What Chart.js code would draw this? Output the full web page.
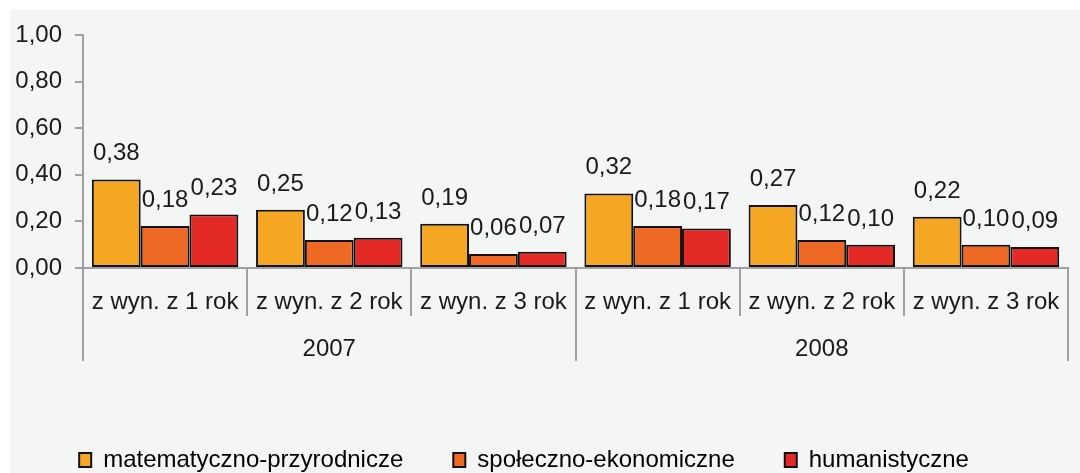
<!DOCTYPE html>
<html>
<head>
<meta charset="utf-8">
<script src="https://cdn.jsdelivr.net/npm/chart.js@4/dist/chart.umd.min.js"></script>
<style>
  html, body { margin: 0; padding: 0; background: #fff; }
  #wrap { position: absolute; left: 10px; top: 10px; width: 1070px; height: 463px; background: #f4f6f5; }
</style>
</head>
<body>
<div id="wrap"><canvas id="chart" width="1070" height="463"></canvas></div>
<script>
// categories (inner level) and years (outer level)
const categories = ["z wyn. z 1 rok", "z wyn. z 2 rok", "z wyn. z 3 rok", "z wyn. z 1 rok", "z wyn. z 2 rok", "z wyn. z 3 rok"];
const years = ["2007", "2008"];
const perYear = 3;

const seriesNames = ["matematyczno-przyrodnicze", "społeczno-ekonomiczne", "humanistyczne"];
const matPrz = [0.38, 0.25, 0.19, 0.32, 0.27, 0.22];
const spoEko = [0.18, 0.12, 0.06, 0.18, 0.12, 0.10];
const human = [0.23, 0.13, 0.07, 0.17, 0.10, 0.09];
const colors = ["#f5a623", "#ee6a24", "#e42a26"];

const yTicks = [0, 0.2, 0.4, 0.6, 0.8, 1.0];

const FONT = "'Liberation Sans', Arial, sans-serif";
const FS = 24;
const TEXT = "#1a1a1a";
const AXIS = "#a0a0a0";

const fmt = v => v.toFixed(2).replace(".", ",");

// value labels above bars
const valueLabels = {
  id: "valueLabels",
  afterDatasetsDraw(chart) {
    const ctx = chart.ctx;
    ctx.save();
    ctx.font = FS + "px " + FONT;
    ctx.fillStyle = TEXT;
    ctx.textAlign = "center";
    ctx.textBaseline = "alphabetic";
    chart.data.datasets.forEach((ds, di) => {
      chart.getDatasetMeta(di).data.forEach((bar, i) => {
        ctx.fillText(fmt(ds.data[i]), bar.x, bar.y - 19);
      });
    });
    ctx.restore();
  }
};

// two-level category axis: separators + year labels
const groupAxis = {
  id: "groupAxis",
  afterLayout(chart) {
    // legend in the original sits a little left of centre
    chart.legend.left -= 17;
    chart.legend.right -= 17;
  },
  afterDraw(chart) {
    const ctx = chart.ctx;
    const x = chart.scales.x;
    const top = chart.chartArea.bottom;
    const step = x.getPixelForValue(1) - x.getPixelForValue(0);
    const edge = i => x.getPixelForValue(i) - step / 2;
    ctx.save();
    ctx.strokeStyle = AXIS;
    ctx.lineWidth = 2;
    for (let i = 0; i <= categories.length; i++) {
      const px = Math.round(edge(i));
      const outer = i % perYear === 0;
      ctx.beginPath();
      ctx.moveTo(px, top);
      ctx.lineTo(px, outer ? top + 93 : top + 48);
      ctx.stroke();
    }
    ctx.font = FS + "px " + FONT;
    ctx.fillStyle = TEXT;
    ctx.textAlign = "center";
    ctx.textBaseline = "middle";
    years.forEach((y, k) => {
      const cx = (edge(k * perYear) + edge((k + 1) * perYear)) / 2;
      ctx.fillText(y, cx, top + 81);
    });
    ctx.restore();
  }
};

new Chart(document.getElementById("chart"), {
  type: "bar",
  data: {
    labels: categories,
    datasets: [matPrz, spoEko, human].map((d, i) => ({
      label: seriesNames[i],
      data: d,
      backgroundColor: colors[i],
      borderColor: "#111",
      borderWidth: 2,
      borderSkipped: false,
      categoryPercentage: 0.892,
      barPercentage: 1.0,
    })),
  },
  options: {
    responsive: false,
    animation: false,
    layout: { padding: { left: 0, right: 8, top: 10, bottom: -9 } },
    plugins: {
      tooltip: { enabled: false },
      legend: {
        position: "bottom",
        labels: {
          font: { size: FS, family: FONT }, color: TEXT,
          boxWidth: 12, boxHeight: 14, padding: 50,
          generateLabels: chart => chart.data.datasets.map((ds, i) => ({
            text: ds.label, fillStyle: ds.backgroundColor, strokeStyle: "#111",
            lineWidth: 2, datasetIndex: i, hidden: false,
          })),
        },
      },
    },
    scales: {
      x: {
        afterFit: s => { s.height = 130; },
        grid: { display: true, drawOnChartArea: false, drawTicks: false, color: "transparent" },
        border: { display: true, color: AXIS, width: 2 },
        ticks: { font: { size: FS, family: FONT }, color: TEXT, padding: 20, maxRotation: 0, autoSkip: false },
      },
      y: {
        min: 0, max: 1,
        afterFit: s => { s.width = 73; },
        afterBuildTicks: s => { s.ticks = yTicks.map(v => ({ value: v })); },
        grid: { display: true, drawOnChartArea: false, drawTicks: true, tickLength: 8, color: AXIS, lineWidth: 2 },
        border: { display: true, color: AXIS, width: 2 },
        ticks: { font: { size: FS, family: FONT, lineHeight: 1 }, color: TEXT, padding: 13, callback: v => fmt(v) },
      },
    },
  },
  plugins: [valueLabels, groupAxis],
});
</script>
</body>
</html>
